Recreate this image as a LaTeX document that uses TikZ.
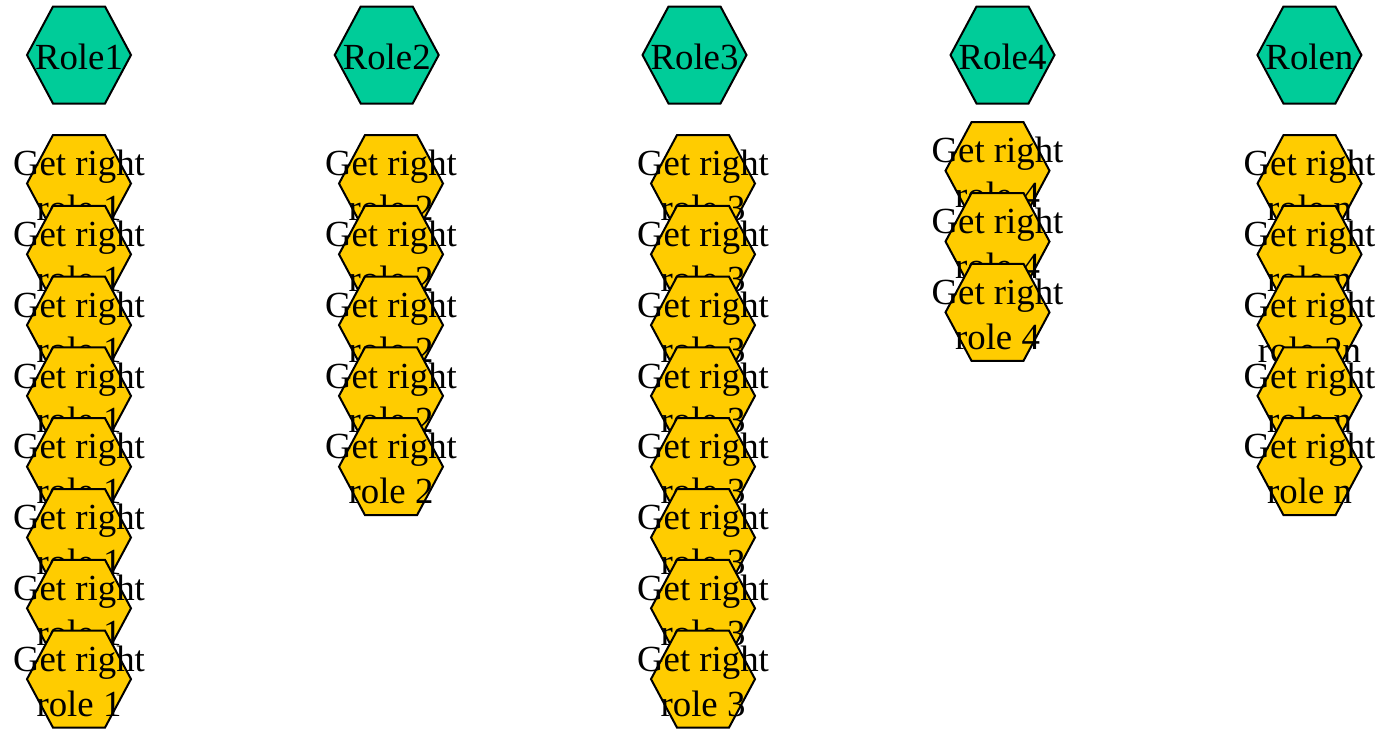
\documentclass[tikz,border=0pt]{standalone}
\usepackage{fontspec}
\setmainfont{Liberation Serif}
\definecolor{rolegreen}{HTML}{00CC99}
\definecolor{rightyellow}{HTML}{FFCC00}
\tikzset{
  hexline/.style={draw=black, line width=1pt, line join=miter},
  rolehex/.style={hexline, fill=rolegreen},
  righthex/.style={hexline, fill=rightyellow},
  lbl/.style={inner sep=0pt, align=center, text=black, yshift=-1pt,
    font=\fontsize{18.4}{22.4}\selectfont}
}
% #1 name, #2 x, #3 y, #4 style, #5 text
\newcommand\myhexnode[5]{%
  \filldraw[#4] (#2,#3) ++(-52,0) -- ++(26,-48.5) -- ++(52,0) -- ++(26,48.5)
     -- ++(-26,48.5) -- ++(-52,0) -- cycle;
  \node[lbl] (#1) at (#2,#3) {#5};
}
\begin{document}
\begin{tikzpicture}[x=0.5pt,y=-0.5pt]
\useasboundingbox (0,0) rectangle (1379,728);
% role nodes
\myhexnode{r1}{79}{55}{rolehex}{Role1}
\myhexnode{r2}{386.7}{55}{rolehex}{Role2}
\myhexnode{r3}{694.5}{55}{rolehex}{Role3}
\myhexnode{r4}{1002.5}{55}{rolehex}{Role4}
\myhexnode{r5}{1309.4}{55}{rolehex}{Rolen}
% column 1
\foreach \i in {0,...,7}{
  \myhexnode{g1-\i}{79}{183.5+70.8*\i}{righthex}{Get right\\role 1}
}
% column 2
\foreach \i in {0,...,4}{
  \myhexnode{g2-\i}{391}{183.5+70.8*\i}{righthex}{Get right\\role 2}
}
% column 3
\foreach \i in {0,...,7}{
  \myhexnode{g3-\i}{703}{183.5+70.8*\i}{righthex}{Get right\\role 3}
}
% column 4
\foreach \i in {0,...,2}{
  \myhexnode{g4-\i}{997.5}{170.7+70.8*\i}{righthex}{Get right\\role 4}
}
% column 5
\myhexnode{g5-0}{1309.5}{183.5}{righthex}{Get right\\role n}
\myhexnode{g5-1}{1309.5}{254.3}{righthex}{Get right\\role n}
\myhexnode{g5-2}{1309.5}{325.1}{righthex}{Get right\\role 2n}
\myhexnode{g5-3}{1309.5}{395.9}{righthex}{Get right\\role n}
\myhexnode{g5-4}{1309.5}{466.7}{righthex}{Get right\\role n}
\end{tikzpicture}
\end{document}
